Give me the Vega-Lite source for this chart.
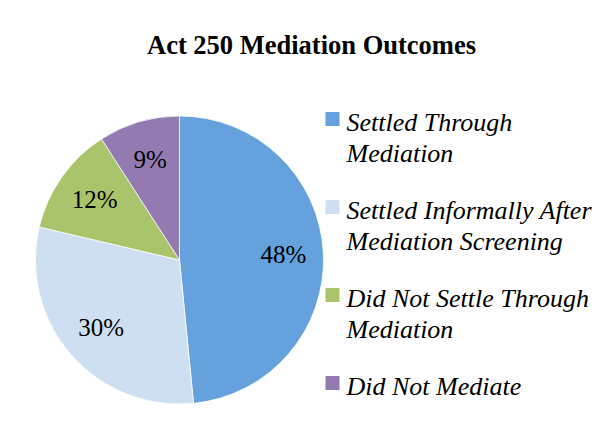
{
  "$schema": "https://vega.github.io/schema/vega-lite/v6.json",
  "width": 294,
  "height": 308,
  "autosize": {"type": "none"},
  "padding": {"left": 32.5, "top": 106, "right": 279.5, "bottom": 20},
  "background": "white",
  "config": {
    "view": {"stroke": null},
    "style": {"guide-label": {"dy": 12, "lineHeight": 31}}
  },
  "title": {
    "text": "Act 250 Mediation Outcomes",
    "font": "Liberation Serif, Times New Roman, serif",
    "fontSize": 26.5,
    "fontWeight": "bold",
    "color": "black",
    "anchor": "middle",
    "frame": "bounds",
    "dx": -1,
    "offset": 47
  },
  "data": {
    "values": [
      {"outcome": "Settled Through Mediation", "share": 0.484, "rank": 1},
      {"outcome": "Settled Informally After Mediation Screening", "share": 0.302, "rank": 2},
      {"outcome": "Did Not Settle Through Mediation", "share": 0.122, "rank": 3},
      {"outcome": "Did Not Mediate", "share": 0.091, "rank": 4}
    ]
  },
  "encoding": {
    "theta": {"field": "share", "type": "quantitative", "stack": true},
    "order": {"field": "rank", "type": "quantitative"}
  },
  "layer": [
    {
      "mark": {"type": "arc", "outerRadius": 144, "stroke": "#ffffff", "strokeWidth": 0.75},
      "encoding": {
        "color": {
          "field": "outcome",
          "type": "nominal",
          "sort": ["Settled Through Mediation", "Settled Informally After Mediation Screening", "Did Not Settle Through Mediation", "Did Not Mediate"],
          "scale": {
            "domain": ["Settled Through Mediation", "Settled Informally After Mediation Screening", "Did Not Settle Through Mediation", "Did Not Mediate"],
            "range": ["#64A1DD", "#CEDFF2", "#A9C46B", "#937BB2"]
          },
          "legend": {
            "title": null,
            "orient": "right",
            "offset": -7,
            "padding": 0,
            "symbolType": "square",
            "symbolSize": 196,
            "symbolStrokeWidth": 0,
            "labelFont": "Liberation Serif, Times New Roman, serif",
            "labelFontStyle": "italic",
            "labelFontSize": 26,
            "labelColor": "black",
            "labelLimit": 400,
            "labelOffset": 1,
            "labelBaseline": "alphabetic",
            "rowPadding": 27,
            "labelExpr": "datum.label == 'Settled Through Mediation' ? ['Settled Through', 'Mediation'] : datum.label == 'Settled Informally After Mediation Screening' ? ['Settled Informally After', 'Mediation Screening'] : datum.label == 'Did Not Settle Through Mediation' ? ['Did Not Settle Through', 'Mediation'] : datum.label"
          }
        }
      }
    },
    {
      "mark": {"type": "text", "radius": 104, "font": "Liberation Serif, Times New Roman, serif", "fontSize": 25, "color": "black"},
      "encoding": {
        "text": {"field": "share", "type": "quantitative", "format": ".0%"}
      }
    }
  ]
}
